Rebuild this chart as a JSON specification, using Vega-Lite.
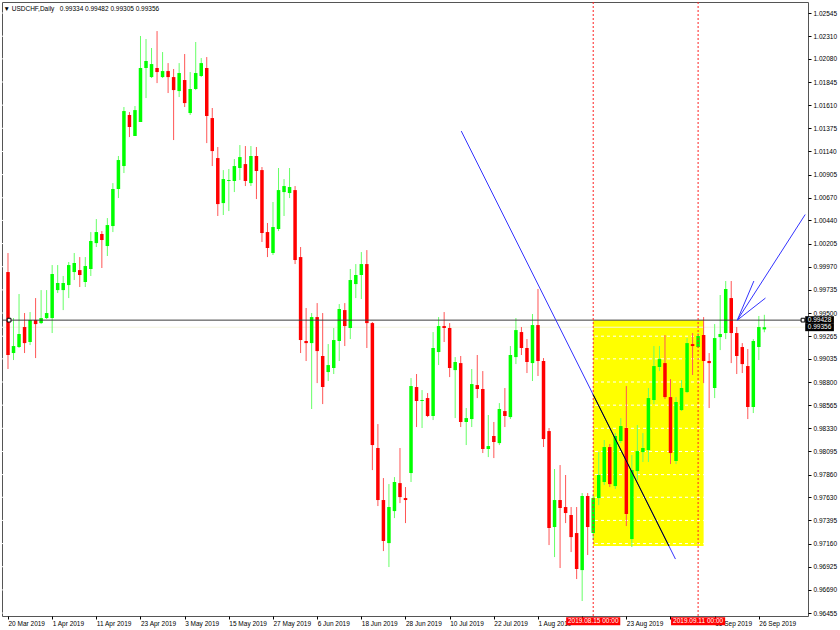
{
  "$schema": "https://vega.github.io/schema/vega-lite/v6.json",
  "width": 806,
  "height": 614,
  "autosize": {"type": "none"},
  "padding": {"left": 2, "top": 2, "right": 32, "bottom": 14},
  "background": "#ffffff",
  "config": {
    "view": {"stroke": "#555555", "strokeWidth": 1},
    "font": "Liberation Sans"
  },
  "title": {
    "text": "▼ USDCHF,Daily\u00a0\u00a0 0.99334 0.99482 0.99305 0.99356",
    "anchor": "start",
    "offset": -11,
    "dx": 2,
    "font": "Liberation Sans",
    "fontSize": 6.5,
    "fontWeight": "normal",
    "color": "#000000"
  },
  "datasets": {
    "candles": [
      {"i":0,"d":"2019-03-20","o":0.99916,"h":1.00109,"l":0.98932,"c":0.99074},
      {"i":1,"d":"2019-03-21","o":0.99094,"h":0.99449,"l":0.99023,"c":0.99165},
      {"i":2,"d":"2019-03-22","o":0.99155,"h":0.99693,"l":0.99145,"c":0.99287},
      {"i":3,"d":"2019-03-25","o":0.99358,"h":0.99500,"l":0.99094,"c":0.99195},
      {"i":4,"d":"2019-03-26","o":0.99206,"h":0.99510,"l":0.99175,"c":0.99429},
      {"i":5,"d":"2019-03-27","o":0.99429,"h":0.99652,"l":0.99043,"c":0.99388},
      {"i":6,"d":"2019-03-28","o":0.99398,"h":0.99733,"l":0.99388,"c":0.99449},
      {"i":7,"d":"2019-03-29","o":0.99449,"h":0.99733,"l":0.99439,"c":0.99500},
      {"i":8,"d":"2019-04-01","o":0.99449,"h":0.99987,"l":0.99297,"c":0.99896},
      {"i":9,"d":"2019-04-02","o":0.99733,"h":0.99987,"l":0.99703,"c":0.99805},
      {"i":10,"d":"2019-04-03","o":0.99733,"h":0.99876,"l":0.99530,"c":0.99805},
      {"i":11,"d":"2019-04-04","o":0.99784,"h":1.00018,"l":0.99652,"c":0.99987},
      {"i":12,"d":"2019-04-05","o":0.99916,"h":1.00109,"l":0.99835,"c":1.00008},
      {"i":13,"d":"2019-04-08","o":0.99936,"h":1.00068,"l":0.99764,"c":0.99886},
      {"i":14,"d":"2019-04-09","o":0.99815,"h":1.00068,"l":0.99764,"c":0.99977},
      {"i":15,"d":"2019-04-10","o":0.99947,"h":1.00322,"l":0.99876,"c":1.00231},
      {"i":16,"d":"2019-04-11","o":1.00210,"h":1.00454,"l":1.00170,"c":1.00322},
      {"i":17,"d":"2019-04-12","o":1.00302,"h":1.00332,"l":0.99957,"c":1.00241},
      {"i":18,"d":"2019-04-15","o":1.00180,"h":1.00464,"l":1.00079,"c":1.00393},
      {"i":19,"d":"2019-04-16","o":1.00383,"h":1.00819,"l":1.00322,"c":1.00759},
      {"i":20,"d":"2019-04-17","o":1.00759,"h":1.01094,"l":1.00667,"c":1.01053},
      {"i":21,"d":"2019-04-18","o":1.00992,"h":1.01591,"l":1.00921,"c":1.01550},
      {"i":22,"d":"2019-04-19","o":1.01510,"h":1.01540,"l":1.01286,"c":1.01388},
      {"i":23,"d":"2019-04-22","o":1.01297,"h":1.01601,"l":1.01297,"c":1.01560},
      {"i":24,"d":"2019-04-23","o":1.01439,"h":1.02312,"l":1.01439,"c":1.01987},
      {"i":25,"d":"2019-04-24","o":1.01987,"h":1.02281,"l":1.01682,"c":1.02058},
      {"i":26,"d":"2019-04-25","o":1.01895,"h":1.02190,"l":1.01885,"c":1.02027},
      {"i":27,"d":"2019-04-26","o":1.01987,"h":1.02362,"l":1.01834,"c":1.01946},
      {"i":28,"d":"2019-04-29","o":1.01895,"h":1.02149,"l":1.01885,"c":1.01956},
      {"i":29,"d":"2019-04-30","o":1.01956,"h":1.02037,"l":1.01733,"c":1.01895},
      {"i":30,"d":"2019-05-01","o":1.01895,"h":1.01977,"l":1.01256,"c":1.01763},
      {"i":31,"d":"2019-05-02","o":1.01753,"h":1.02037,"l":1.01692,"c":1.01936},
      {"i":32,"d":"2019-05-03","o":1.01865,"h":1.02129,"l":1.01591,"c":1.01631},
      {"i":33,"d":"2019-05-06","o":1.01530,"h":1.01946,"l":1.01510,"c":1.01774},
      {"i":34,"d":"2019-05-07","o":1.01774,"h":1.02251,"l":1.01763,"c":1.01936},
      {"i":35,"d":"2019-05-08","o":1.01906,"h":1.02088,"l":1.01895,"c":1.02037},
      {"i":36,"d":"2019-05-09","o":1.01987,"h":1.02098,"l":1.01225,"c":1.01500},
      {"i":37,"d":"2019-05-10","o":1.01479,"h":1.01581,"l":1.00992,"c":1.01144},
      {"i":38,"d":"2019-05-13","o":1.01073,"h":1.01185,"l":1.00485,"c":1.00606},
      {"i":39,"d":"2019-05-14","o":1.00616,"h":1.00951,"l":1.00495,"c":1.00860},
      {"i":40,"d":"2019-05-15","o":1.00840,"h":1.00962,"l":1.00535,"c":1.00850},
      {"i":41,"d":"2019-05-16","o":1.00840,"h":1.01063,"l":1.00728,"c":1.00992},
      {"i":42,"d":"2019-05-17","o":1.00972,"h":1.01205,"l":1.00850,"c":1.01083},
      {"i":43,"d":"2019-05-20","o":1.01012,"h":1.01195,"l":1.00789,"c":1.00840},
      {"i":44,"d":"2019-05-21","o":1.00819,"h":1.01195,"l":1.00789,"c":1.01094},
      {"i":45,"d":"2019-05-22","o":1.01094,"h":1.01185,"l":1.00657,"c":1.00941},
      {"i":46,"d":"2019-05-23","o":1.00951,"h":1.00982,"l":1.00221,"c":1.00312},
      {"i":47,"d":"2019-05-24","o":1.00322,"h":1.00414,"l":1.00068,"c":1.00160},
      {"i":48,"d":"2019-05-27","o":1.00109,"h":1.00627,"l":1.00089,"c":1.00373},
      {"i":49,"d":"2019-05-28","o":1.00353,"h":1.00972,"l":1.00332,"c":1.00748},
      {"i":50,"d":"2019-05-29","o":1.00728,"h":1.00860,"l":1.00485,"c":1.00789},
      {"i":51,"d":"2019-05-30","o":1.00718,"h":1.00972,"l":1.00667,"c":1.00779},
      {"i":52,"d":"2019-05-31","o":1.00748,"h":1.00789,"l":0.99997,"c":1.00038},
      {"i":53,"d":"2019-06-03","o":1.00068,"h":1.00170,"l":0.99094,"c":0.99226},
      {"i":54,"d":"2019-06-04","o":0.99216,"h":0.99551,"l":0.99013,"c":0.99195},
      {"i":55,"d":"2019-06-05","o":0.99195,"h":0.99500,"l":0.98526,"c":0.99459},
      {"i":56,"d":"2019-06-06","o":0.99459,"h":0.99601,"l":0.98789,"c":0.99114},
      {"i":57,"d":"2019-06-07","o":0.99064,"h":0.99500,"l":0.98576,"c":0.98749},
      {"i":58,"d":"2019-06-10","o":0.98901,"h":0.99185,"l":0.98810,"c":0.98972},
      {"i":59,"d":"2019-06-11","o":0.98942,"h":0.99348,"l":0.98881,"c":0.99226},
      {"i":60,"d":"2019-06-12","o":0.99216,"h":0.99591,"l":0.99013,"c":0.99541},
      {"i":61,"d":"2019-06-13","o":0.99530,"h":0.99601,"l":0.99165,"c":0.99368},
      {"i":62,"d":"2019-06-14","o":0.99348,"h":0.99947,"l":0.99236,"c":0.99835},
      {"i":63,"d":"2019-06-17","o":0.99794,"h":0.99997,"l":0.99652,"c":0.99886},
      {"i":64,"d":"2019-06-18","o":0.99886,"h":1.00119,"l":0.99642,"c":0.99997},
      {"i":65,"d":"2019-06-19","o":0.99997,"h":1.00139,"l":0.99145,"c":0.99398},
      {"i":66,"d":"2019-06-20","o":0.99398,"h":0.99409,"l":0.97906,"c":0.98160},
      {"i":67,"d":"2019-06-21","o":0.98130,"h":0.98373,"l":0.97541,"c":0.97602},
      {"i":68,"d":"2019-06-24","o":0.97602,"h":0.97825,"l":0.97084,"c":0.97186},
      {"i":69,"d":"2019-06-25","o":0.97165,"h":0.97764,"l":0.96922,"c":0.97531},
      {"i":70,"d":"2019-06-26","o":0.97490,"h":0.97835,"l":0.97419,"c":0.97785},
      {"i":71,"d":"2019-06-27","o":0.97774,"h":0.98130,"l":0.97571,"c":0.97632},
      {"i":72,"d":"2019-06-28","o":0.97622,"h":0.97734,"l":0.97368,"c":0.97602},
      {"i":73,"d":"2019-07-01","o":0.97876,"h":0.98840,"l":0.97785,"c":0.98759},
      {"i":74,"d":"2019-07-02","o":0.98749,"h":0.98881,"l":0.98343,"c":0.98607},
      {"i":75,"d":"2019-07-03","o":0.98607,"h":0.98718,"l":0.98333,"c":0.98617},
      {"i":76,"d":"2019-07-04","o":0.98637,"h":0.98688,"l":0.98444,"c":0.98455},
      {"i":77,"d":"2019-07-05","o":0.98455,"h":0.99307,"l":0.98414,"c":0.99145},
      {"i":78,"d":"2019-07-08","o":0.99104,"h":0.99459,"l":0.98972,"c":0.99368},
      {"i":79,"d":"2019-07-09","o":0.99368,"h":0.99510,"l":0.99206,"c":0.99348},
      {"i":80,"d":"2019-07-10","o":0.99348,"h":0.99398,"l":0.98850,"c":0.98942},
      {"i":81,"d":"2019-07-11","o":0.98921,"h":0.99053,"l":0.98434,"c":0.99003},
      {"i":82,"d":"2019-07-12","o":0.98992,"h":0.99064,"l":0.98343,"c":0.98394},
      {"i":83,"d":"2019-07-15","o":0.98394,"h":0.98536,"l":0.98160,"c":0.98434},
      {"i":84,"d":"2019-07-16","o":0.98424,"h":0.98932,"l":0.98343,"c":0.98779},
      {"i":85,"d":"2019-07-17","o":0.98769,"h":0.99074,"l":0.98637,"c":0.98729},
      {"i":86,"d":"2019-07-18","o":0.98729,"h":0.98911,"l":0.98079,"c":0.98120},
      {"i":87,"d":"2019-07-19","o":0.98120,"h":0.98465,"l":0.98038,"c":0.98150},
      {"i":88,"d":"2019-07-22","o":0.98252,"h":0.98394,"l":0.98028,"c":0.98191},
      {"i":89,"d":"2019-07-23","o":0.98180,"h":0.98586,"l":0.98160,"c":0.98526},
      {"i":90,"d":"2019-07-24","o":0.98505,"h":0.98739,"l":0.98343,"c":0.98455},
      {"i":91,"d":"2019-07-25","o":0.98444,"h":0.99165,"l":0.98424,"c":0.99074},
      {"i":92,"d":"2019-07-26","o":0.99053,"h":0.99449,"l":0.98982,"c":0.99327},
      {"i":93,"d":"2019-07-29","o":0.99307,"h":0.99358,"l":0.99074,"c":0.99145},
      {"i":94,"d":"2019-07-30","o":0.99145,"h":0.99236,"l":0.98891,"c":0.99003},
      {"i":95,"d":"2019-07-31","o":0.98992,"h":0.99490,"l":0.98810,"c":0.99378},
      {"i":96,"d":"2019-08-01","o":0.99378,"h":0.99744,"l":0.98861,"c":0.99013},
      {"i":97,"d":"2019-08-02","o":0.99013,"h":0.99043,"l":0.98140,"c":0.98221},
      {"i":98,"d":"2019-08-05","o":0.98302,"h":0.98333,"l":0.97145,"c":0.97318},
      {"i":99,"d":"2019-08-06","o":0.97328,"h":0.97917,"l":0.97023,"c":0.97602},
      {"i":100,"d":"2019-08-07","o":0.97602,"h":0.97957,"l":0.96912,"c":0.97521},
      {"i":101,"d":"2019-08-08","o":0.97531,"h":0.97856,"l":0.97368,"c":0.97470},
      {"i":102,"d":"2019-08-09","o":0.97450,"h":0.97531,"l":0.97074,"c":0.97226},
      {"i":103,"d":"2019-08-12","o":0.97267,"h":0.97531,"l":0.96800,"c":0.96902},
      {"i":104,"d":"2019-08-13","o":0.96891,"h":0.97673,"l":0.96577,"c":0.97643},
      {"i":105,"d":"2019-08-14","o":0.97643,"h":0.97673,"l":0.97044,"c":0.97328},
      {"i":106,"d":"2019-08-15","o":0.97267,"h":0.97653,"l":0.97196,"c":0.97622},
      {"i":107,"d":"2019-08-16","o":0.97622,"h":0.98089,"l":0.97551,"c":0.97856},
      {"i":108,"d":"2019-08-19","o":0.97785,"h":0.98211,"l":0.97754,"c":0.98140},
      {"i":109,"d":"2019-08-20","o":0.98140,"h":0.98170,"l":0.97734,"c":0.97764},
      {"i":110,"d":"2019-08-21","o":0.97744,"h":0.98282,"l":0.97714,"c":0.98252},
      {"i":111,"d":"2019-08-22","o":0.98201,"h":0.98434,"l":0.98180,"c":0.98353},
      {"i":112,"d":"2019-08-23","o":0.98333,"h":0.98759,"l":0.97338,"c":0.97460},
      {"i":113,"d":"2019-08-26","o":0.97206,"h":0.98059,"l":0.97125,"c":0.97906},
      {"i":114,"d":"2019-08-27","o":0.97896,"h":0.98363,"l":0.97805,"c":0.98099},
      {"i":115,"d":"2019-08-28","o":0.98089,"h":0.98282,"l":0.97988,"c":0.98130},
      {"i":116,"d":"2019-08-29","o":0.98109,"h":0.98739,"l":0.97988,"c":0.98637},
      {"i":117,"d":"2019-08-30","o":0.98617,"h":0.99165,"l":0.98576,"c":0.98962},
      {"i":118,"d":"2019-09-02","o":0.98952,"h":0.99165,"l":0.98911,"c":0.99033},
      {"i":119,"d":"2019-09-03","o":0.98992,"h":0.99277,"l":0.98627,"c":0.98647},
      {"i":120,"d":"2019-09-04","o":0.98647,"h":0.98830,"l":0.97967,"c":0.98079},
      {"i":121,"d":"2019-09-05","o":0.97998,"h":0.98647,"l":0.97967,"c":0.98597},
      {"i":122,"d":"2019-09-06","o":0.98515,"h":0.98820,"l":0.98505,"c":0.98739},
      {"i":123,"d":"2019-09-09","o":0.98698,"h":0.99246,"l":0.98688,"c":0.99195},
      {"i":124,"d":"2019-09-10","o":0.99185,"h":0.99297,"l":0.98871,"c":0.99165},
      {"i":125,"d":"2019-09-11","o":0.99155,"h":0.99297,"l":0.99145,"c":0.99267},
      {"i":126,"d":"2019-09-12","o":0.99277,"h":0.99459,"l":0.98789,"c":0.99013},
      {"i":127,"d":"2019-09-13","o":0.99013,"h":0.99094,"l":0.98536,"c":0.98992},
      {"i":128,"d":"2019-09-16","o":0.98739,"h":0.99388,"l":0.98637,"c":0.99246},
      {"i":129,"d":"2019-09-17","o":0.99256,"h":0.99683,"l":0.99124,"c":0.99287},
      {"i":130,"d":"2019-09-18","o":0.99297,"h":0.99825,"l":0.99236,"c":0.99744},
      {"i":131,"d":"2019-09-19","o":0.99652,"h":0.99825,"l":0.98992,"c":0.99297},
      {"i":132,"d":"2019-09-20","o":0.99297,"h":0.99358,"l":0.98881,"c":0.99064},
      {"i":133,"d":"2019-09-23","o":0.99155,"h":0.99195,"l":0.98891,"c":0.98982},
      {"i":134,"d":"2019-09-24","o":0.98962,"h":0.99135,"l":0.98424,"c":0.98546},
      {"i":135,"d":"2019-09-25","o":0.98546,"h":0.99236,"l":0.98485,"c":0.99216},
      {"i":136,"d":"2019-09-26","o":0.99155,"h":0.99470,"l":0.99023,"c":0.99358},
      {"i":137,"d":"2019-09-27","o":0.99334,"h":0.99482,"l":0.99305,"c":0.99356}
    ],
    "ticks": [
      {"p":1.02545},{"p":1.0231},{"p":1.0208},{"p":1.01845},{"p":1.0161},{"p":1.01375},{"p":1.0114},{"p":1.00905},{"p":1.0067},{"p":1.0044},{"p":1.00205},{"p":0.9997},{"p":0.99735},{"p":0.995},{"p":0.99265},{"p":0.99035},{"p":0.988},{"p":0.98565},{"p":0.9833},{"p":0.98095},{"p":0.9786},{"p":0.9763},{"p":0.97395},{"p":0.9716},{"p":0.96925},{"p":0.9669},{"p":0.96455}
    ],
    "box": [{"i1":106,"i2":126,"p1":0.99428,"p2":0.97135}],
    "vlines": [{"i":106},{"i":125}],
    "trend": [
      {"k":"a","i":82.1,"p":1.01347},{"k":"a","i":120.9,"p":0.97003},
      {"k":"b","i":132.1,"p":0.99428},{"k":"b","i":144.4,"p":1.00500},
      {"k":"c","i":132.1,"p":0.99428},{"k":"c","i":135.1,"p":0.99825},
      {"k":"d","i":132.1,"p":0.99428},{"k":"d","i":137.2,"p":0.99652}
    ],
    "inside": [{"i":106,"p":0.98671},{"i":119.72,"p":0.97135}],
    "hline": [{"p":0.99428}],
    "ends": [{"i":0.2,"p":0.99428},{"i":144.0,"p":0.99428}],
    "pricetags": [
      {"t":"0.99428","p":0.99428,"pt":0.99468,"pb":0.99390,"x1":144.4,"x2":149.6,"xm":147.0},
      {"t":"0.99356","p":0.99356,"pt":0.99390,"pb":0.99316,"x1":144.4,"x2":149.6,"xm":147.0}
    ],
    "datetags": [
      {"t":"2019.08.15 00:00","x1":101.1,"x2":110.9,"xm":106,"pt":0.96412,"pb":0.96330,"p":0.96371},
      {"t":"2019.09.11 00:00","x1":120.1,"x2":129.9,"xm":125,"pt":0.96412,"pb":0.96330,"p":0.96371}
    ]
  },
  "layer": [
    {
      "data": {"name": "box"},
      "mark": {"type": "rect", "color": "#ffff00", "strokeWidth": 0},
      "encoding": {
        "x": {"field": "i1", "type": "quantitative", "scale": {"domain": [-0.18, 144.0], "nice": false, "zero": false},
          "axis": {"orient": "bottom", "values": [0,8,16,24,32,40,48,56,64,72,80,88,96,104,112,120,128,136], "tickCount": 40,
            "labelExpr": "['20 Mar 2019','1 Apr 2019','11 Apr 2019','23 Apr 2019','3 May 2019','15 May 2019','27 May 2019','6 Jun 2019','18 Jun 2019','28 Jun 2019','10 Jul 2019','22 Jul 2019','1 Aug 2019','','23 Aug 2019','','16 Sep 2019','26 Sep 2019'][round(datum.value/8)]",
            "labelAlign": "left", "labelBaseline": "top", "labelPadding": 1, "labelDx": -2,
            "labelFont": "Liberation Sans", "labelFontSize": 6.5, "labelColor": "#000000",
            "labelOverlap": false, "labelFlush": false, "labelBound": false,
            "tickSize": 3, "tickColor": "#000000", "domain": false, "grid": false, "title": null}},
        "x2": {"field": "i2"},
        "y": {"field": "p1", "type": "quantitative", "scale": {"domain": [0.96425, 1.02657], "nice": false, "zero": false},
          "axis": {"orient": "right", "values": [1.02545,1.0231,1.0208,1.01845,1.0161,1.01375,1.0114,1.00905,1.0067,1.0044,1.00205,0.9997,0.99735,0.995,0.99265,0.99035,0.988,0.98565,0.9833,0.98095,0.9786,0.9763,0.97395,0.9716,0.96925,0.9669,0.96455], "tickCount": 60,
            "format": ".5f", "labelAlign": "left", "labelPadding": 2,
            "labelFont": "Liberation Sans", "labelFontSize": 6.5, "labelColor": "#000000",
            "labelOverlap": false, "labelFlush": false, "labelBound": false,
            "tickSize": 3, "tickColor": "#000000", "domain": false, "grid": false, "title": null}},
        "y2": {"field": "p2"}
      }
    },
    {
      "data": {"name": "ticks"},
      "mark": {"type": "rule", "color": "#ffffff", "strokeDash": [3, 3], "strokeWidth": 1},
      "encoding": {"y": {"field": "p", "type": "quantitative", "title": null}}
    },
    {
      "data": {"values": [{"p": 0.99356}]},
      "mark": {"type": "rule", "color": "#f4f4e0", "strokeWidth": 1},
      "encoding": {"y": {"field": "p", "type": "quantitative", "title": null}}
    },
    {
      "data": {"name": "candles"},
      "mark": {"type": "rule", "strokeWidth": 1},
      "encoding": {
        "x": {"field": "i", "type": "quantitative", "title": null},
        "y": {"field": "l", "type": "quantitative", "title": null},
        "y2": {"field": "h"},
        "color": {"condition": {"test": "datum.c >= datum.o", "value": "#66ff66"}, "value": "#ff5555"}
      }
    },
    {
      "data": {"name": "candles"},
      "mark": {"type": "bar", "size": 3.5},
      "encoding": {
        "x": {"field": "i", "type": "quantitative", "title": null},
        "y": {"field": "o", "type": "quantitative", "title": null},
        "y2": {"field": "c"},
        "color": {"condition": {"test": "datum.c >= datum.o", "value": "#00ff00"}, "value": "#ff0000"}
      }
    },
    {
      "data": {"name": "hline"},
      "mark": {"type": "rule", "color": "#3c3c3c", "strokeWidth": 1},
      "encoding": {"y": {"field": "p", "type": "quantitative", "title": null}}
    },
    {
      "data": {"name": "vlines"},
      "mark": {"type": "rule", "color": "#ff2020", "strokeDash": [2, 2], "strokeWidth": 1},
      "encoding": {"x": {"field": "i", "type": "quantitative", "title": null}}
    },
    {
      "data": {"name": "trend"},
      "mark": {"type": "line", "color": "#3333ff", "strokeWidth": 1, "clip": true},
      "encoding": {
        "x": {"field": "i", "type": "quantitative", "title": null},
        "y": {"field": "p", "type": "quantitative", "title": null},
        "detail": {"field": "k"}
      }
    },
    {
      "data": {"name": "inside"},
      "mark": {"type": "line", "color": "#000000", "strokeWidth": 1},
      "encoding": {
        "x": {"field": "i", "type": "quantitative", "title": null},
        "y": {"field": "p", "type": "quantitative", "title": null}
      }
    },
    {
      "data": {"name": "ends"},
      "mark": {"type": "point", "shape": "square", "size": 14, "filled": true, "fill": "#ffffff", "stroke": "#000000", "strokeWidth": 1, "opacity": 1},
      "encoding": {
        "x": {"field": "i", "type": "quantitative", "title": null},
        "y": {"field": "p", "type": "quantitative", "title": null}
      }
    },
    {
      "data": {"name": "pricetags"},
      "mark": {"type": "rect", "color": "#000000"},
      "encoding": {
        "x": {"field": "x1", "type": "quantitative", "title": null},
        "x2": {"field": "x2"},
        "y": {"field": "pt", "type": "quantitative", "title": null},
        "y2": {"field": "pb"}
      }
    },
    {
      "data": {"name": "pricetags"},
      "mark": {"type": "text", "color": "#ffffff", "font": "Liberation Sans", "fontSize": 6.5, "align": "center", "baseline": "middle"},
      "encoding": {
        "x": {"field": "xm", "type": "quantitative", "title": null},
        "y": {"field": "p", "type": "quantitative", "title": null},
        "text": {"field": "t"}
      }
    },
    {
      "data": {"name": "datetags"},
      "mark": {"type": "rect", "color": "#ff0000"},
      "encoding": {
        "x": {"field": "x1", "type": "quantitative", "title": null},
        "x2": {"field": "x2"},
        "y": {"field": "pt", "type": "quantitative", "title": null},
        "y2": {"field": "pb"}
      }
    },
    {
      "data": {"name": "datetags"},
      "mark": {"type": "text", "color": "#ffffff", "font": "Liberation Sans", "fontSize": 6.5, "align": "center", "baseline": "middle"},
      "encoding": {
        "x": {"field": "xm", "type": "quantitative", "title": null},
        "y": {"field": "p", "type": "quantitative", "title": null},
        "text": {"field": "t"}
      }
    }
  ]
}
